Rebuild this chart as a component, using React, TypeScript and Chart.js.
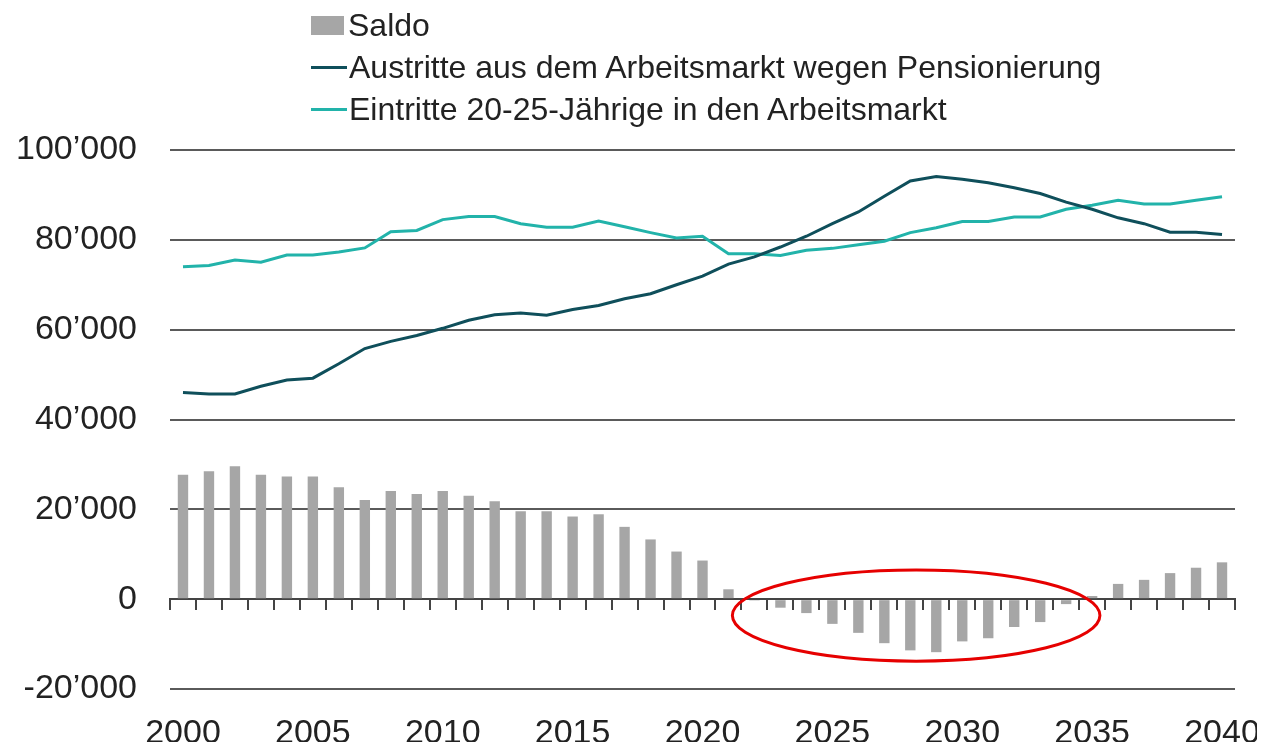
import React, { useEffect, useRef } from "react";
import { Chart, registerables } from "chart.js";

Chart.register(...registerables);

const years = [
  "2000", "2001", "2002", "2003", "2004", "2005", "2006", "2007", "2008", "2009",
  "2010", "2011", "2012", "2013", "2014", "2015", "2016", "2017", "2018", "2019",
  "2020", "2021", "2022", "2023", "2024", "2025", "2026", "2027", "2028", "2029",
  "2030", "2031", "2032", "2033", "2034", "2035", "2036", "2037", "2038", "2039",
  "2040",
];

const saldo = [
  27700, 28500, 29600, 27700, 27300, 27300, 24900, 22100, 24100, 23400,
  24100, 23000, 21800, 19600, 19600, 18400, 18900, 16100, 13300, 10600,
  8600, 2200, -300, -1900, -3100, -5500, -7500, -9800, -11400, -11800,
  -9400, -8700, -6200, -5100, -1100, 700, 3400, 4300, 5800, 7000,
  8200,
];

const austritte = [
  46000, 45700, 45700, 47400, 48800, 49200, 52400, 55800, 57400, 58700,
  60300, 62100, 63300, 63700, 63200, 64500, 65400, 66900, 68000, 70000,
  71900, 74600, 76200, 78400, 80800, 83600, 86200, 89700, 93100, 94100,
  93500, 92700, 91600, 90300, 88400, 86800, 84900, 83600, 81700, 81700,
  81200,
];

const eintritte = [
  74000, 74300, 75500, 75000, 76600, 76600, 77300, 78200, 81800, 82100,
  84500, 85200, 85200, 83600, 82800, 82800, 84200, 82900, 81600, 80400,
  80800, 76900, 76900, 76500, 77700, 78100, 78900, 79700, 81600, 82700,
  84100, 84100, 85100, 85100, 86800, 87700, 88800, 88000, 88000, 88800,
  89600,
];

const seriesNames = [
  "Saldo",
  "Austritte aus dem Arbeitsmarkt wegen Pensionierung",
  "Eintritte 20-25-Jährige in den Arbeitsmarkt",
];

const yMin = -20000;
const yMax = 100000;
const yStep = 20000;
const labelEvery = 5;

// highlighted region (ellipse), in data units: category index range and value range
const highlightFromIndex = 21.15;
const highlightToIndex = 35.3;
const highlightTop = 6500;
const highlightBottom = -13800;

const COLOR_BAR = "#a6a6a6";
const COLOR_OUT = "#0f4f5b";
const COLOR_IN = "#22b3aa";
const COLOR_GRID = "#5a5a5a";
const COLOR_TEXT = "#222222";
const FONT = '"Liberation Sans", Arial, Helvetica, sans-serif';

const W = 1265;
const H = 742;

function formatThousands(v: number): string {
  if (v === 0) return "0";
  const sign = v < 0 ? "-" : "";
  let s = String(Math.abs(Math.round(v)));
  const parts: string[] = [];
  while (s.length > 3) {
    parts.unshift(s.slice(-3));
    s = s.slice(0, -3);
  }
  parts.unshift(s);
  return sign + parts.join("\u2019");
}

const ellipsePlugin = {
  id: "highlightEllipse",
  afterDatasetsDraw(chart: any) {
    const { ctx, scales } = chart;
    const xs = scales.x;
    const ys = scales.y;
    const x1 = xs.getPixelForValue(highlightFromIndex);
    const x2 = xs.getPixelForValue(highlightToIndex);
    const y1 = ys.getPixelForValue(highlightTop);
    const y2 = ys.getPixelForValue(highlightBottom);
    ctx.save();
    ctx.beginPath();
    ctx.ellipse((x1 + x2) / 2, (y1 + y2) / 2, Math.abs(x2 - x1) / 2, Math.abs(y2 - y1) / 2, 0, 0, Math.PI * 2);
    ctx.strokeStyle = "#e60000";
    ctx.lineWidth = 3;
    ctx.stroke();
    ctx.restore();
  },
};

export default function App() {
  const canvasRef = useRef<HTMLCanvasElement | null>(null);

  useEffect(() => {
    document.documentElement.style.overflow = "hidden";
    document.body.style.overflow = "hidden";
    if (!canvasRef.current) return;
    const chart = new Chart(canvasRef.current, {
      type: "bar",
      data: {
        labels: years,
        datasets: [
          {
            type: "line",
            label: seriesNames[1],
            data: austritte,
            borderColor: COLOR_OUT,
            backgroundColor: COLOR_OUT,
            borderWidth: 3,
            pointRadius: 0,
            tension: 0,
            order: 1,
          } as any,
          {
            type: "line",
            label: seriesNames[2],
            data: eintritte,
            borderColor: COLOR_IN,
            backgroundColor: COLOR_IN,
            borderWidth: 3,
            pointRadius: 0,
            tension: 0,
            order: 2,
          } as any,
          {
            type: "bar",
            label: seriesNames[0],
            data: saldo,
            backgroundColor: COLOR_BAR,
            borderWidth: 0,
            barPercentage: 0.4,
            categoryPercentage: 1,
            order: 3,
          },
        ],
      },
      options: {
        responsive: false,
        animation: false,
        layout: { padding: { left: 0, right: 30, top: 150, bottom: 0 } },
        plugins: {
          legend: { display: false },
          tooltip: { enabled: false },
        },
        scales: {
          x: {
            type: "category",
            position: "bottom",
            offset: true,
            grid: { display: false, drawTicks: false },
            border: { display: false },
            ticks: {
              autoSkip: false,
              maxRotation: 0,
              minRotation: 0,
              padding: 24,
              color: COLOR_TEXT,
              font: { family: FONT, size: 34 },
              callback: (_v: any, i: number) => (Number(years[i]) % labelEvery === 0 ? years[i] : ""),
            },
            afterFit: (s: any) => {
              s.height = 53;
              s.paddingLeft = 0;
              s.paddingRight = 0;
            },
          },
          x2: {
            type: "category",
            labels: years,
            position: { y: 0 } as any,
            offset: true,
            grid: {
              offset: true,
              drawOnChartArea: false,
              drawTicks: true,
              tickLength: 10,
              color: "#444444",
              lineWidth: 2,
            },
            border: { display: true, color: "#444444", width: 2 },
            ticks: { display: false },
            afterFit: (s: any) => {
              s.paddingLeft = 0;
              s.paddingRight = 0;
            },
          },
          y: {
            min: yMin,
            max: yMax,
            grid: { color: COLOR_GRID, lineWidth: 2, drawTicks: false },
            border: { display: false },
            ticks: {
              stepSize: yStep,
              padding: 33,
              color: COLOR_TEXT,
              font: { family: FONT, size: 34 },
              callback: (v: any) => formatThousands(Number(v)),
            },
            afterFit: (s: any) => {
              s.width = 170;
              s.paddingTop = 0;
              s.paddingBottom = 0;
            },
          },
        } as any,
      },
      plugins: [ellipsePlugin],
    });
    return () => chart.destroy();
  }, []);

  const rowStyle: React.CSSProperties = {
    height: 42,
    display: "flex",
    alignItems: "center",
    whiteSpace: "nowrap",
  };
  const textStyle: React.CSSProperties = {
    fontFamily: FONT,
    fontSize: 32,
    color: COLOR_TEXT,
    lineHeight: "normal",
  };

  return (
    <div style={{ position: "relative", width: W, height: H, marginLeft: -8, marginTop: -8 }}>
      <canvas
        ref={canvasRef}
        width={W}
        height={H}
        style={{ position: "absolute", left: 0, top: 0, width: W, height: H, display: "block" }}
      />
      <div style={{ position: "absolute", left: 311, top: 4 }}>
        <div style={rowStyle}>
          <span style={{ display: "inline-block", width: 33, height: 19, background: COLOR_BAR, marginRight: 4 }} />
          <span style={textStyle}>{seriesNames[0]}</span>
        </div>
        <div style={rowStyle}>
          <span style={{ display: "inline-block", width: 36, height: 3, background: COLOR_OUT, marginRight: 2 }} />
          <span style={textStyle}>{seriesNames[1]}</span>
        </div>
        <div style={rowStyle}>
          <span style={{ display: "inline-block", width: 36, height: 3, background: COLOR_IN, marginRight: 2 }} />
          <span style={textStyle}>{seriesNames[2]}</span>
        </div>
      </div>
    </div>
  );
}
